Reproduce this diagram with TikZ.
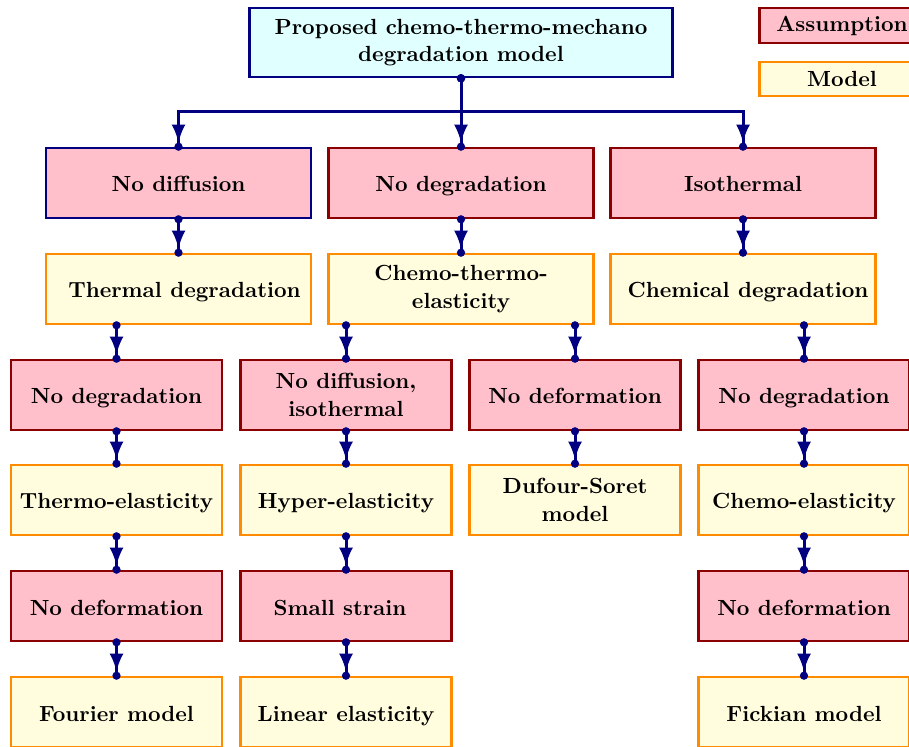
\documentclass[tikz,border=0pt]{standalone}
\usetikzlibrary{arrows.meta}
\definecolor{navyblue}{RGB}{0,0,128}
\definecolor{boxred}{RGB}{139,0,0}
\definecolor{boxpink}{RGB}{255,192,203}
\definecolor{boxyellow}{RGB}{255,253,222}
\definecolor{boxorange}{RGB}{255,140,0}
\definecolor{boxcyan}{RGB}{224,255,255}
\begin{document}
\begin{tikzpicture}
	[x=0.5pt,y=-0.5pt,
	box/.style={draw,line width=1.3pt,font=\fontsize{10.95}{13.6}\selectfont\bfseries,align=center,inner sep=2pt},
	assume/.style={box,draw=boxred,fill=boxpink},
	model/.style={box,draw=boxorange,fill=boxyellow},
	wide/.style={minimum width=132.5pt,minimum height=35pt,text height=10pt,text depth=1pt},
	narrow/.style={minimum width=105.5pt,minimum height=35pt,text height=10pt,text depth=1pt},
	twolines/.style={text height={},text depth={}},
	link/.style={navyblue,line width=1.5pt,{Circle[length=4pt]}-{Latex[length=9pt,width=7pt]Circle[length=4pt]},
		shorten <=-2pt,shorten >=-2pt}]
	\clip (0,0) rectangle (909,747);
	% top and legend
	\node[box,draw=navyblue,fill=boxcyan,minimum width=211.5pt,minimum height=34.5pt] (top) at (461,42.5)
		{Proposed chemo-thermo-mechano\\degradation model};
	\node[assume,minimum width=82.5pt,minimum height=17.5pt] (legA) at (842,25.5) {Assumption};
	\node[model,minimum width=82.5pt,minimum height=17pt] (legM) at (842,79) {Model};
	% first level
	\node[assume,wide,draw=navyblue] (nodiff) at (178.5,183) {No diffusion};
	\node[assume,wide] (nodeg) at (461,183) {No degradation};
	\node[assume,wide] (iso) at (743,183) {Isothermal};
	\node[model,wide] (thdeg) at (178.5,289) {\hspace{6pt}Thermal degradation};
	\node[model,wide,twolines] (ctel) at (461,289) {Chemo-thermo-\\elasticity};
	\node[model,wide] (chdeg) at (743,289) {\hspace{5pt}Chemical degradation};
	% second level
	\node[assume,narrow] (nodegA) at (116.5,395) {No degradation};
	\node[assume,narrow,twolines] (nodiffiso) at (346,395) {No diffusion,\\isothermal};
	\node[assume,narrow] (nodef) at (575,395) {No deformation};
	\node[assume,narrow] (nodegB) at (804,395) {No degradation};
	\node[model,narrow] (thel) at (116.5,500) {Thermo-elasticity};
	\node[model,narrow] (hyel) at (346,500) {Hyper-elasticity};
	\node[model,narrow,twolines] (dufour) at (575,500) {Dufour-Soret\\model};
	\node[model,narrow] (chel) at (804,500) {Chemo-elasticity};
	\node[assume,narrow] (nodefA) at (116.5,606) {No deformation};
	\node[assume,narrow] (small) at (346,606) {Small strain\hspace{6pt}};
	\node[assume,narrow] (nodefB) at (804,606) {No deformation};
	\node[model,narrow] (fourier) at (116.5,712) {Fourier model};
	\node[model,narrow] (linel) at (346,712) {Linear elasticity};
	\node[model,narrow] (fick) at (804,712) {Fickian model};
	% connectors
	\coordinate (split) at (461,112);
	\draw[link] (top.south) -- (split) -| (nodiff.north);
	\draw[link] (top.south) -- (nodeg.north);
	\draw[link] (top.south) -- (split) -| (iso.north);
	\draw[link] (nodiff.south) -- (thdeg.north);
	\draw[link] (nodeg.south) -- (ctel.north);
	\draw[link] (iso.south) -- (chdeg.north);
	\draw[link] (thdeg.south -| nodegA.north) -- (nodegA.north);
	\draw[link] (ctel.south -| nodiffiso.north) -- (nodiffiso.north);
	\draw[link] (ctel.south -| nodef.north) -- (nodef.north);
	\draw[link] (chdeg.south -| nodegB.north) -- (nodegB.north);
	\draw[link] (nodegA.south) -- (thel.north);
	\draw[link] (nodiffiso.south) -- (hyel.north);
	\draw[link] (nodef.south) -- (dufour.north);
	\draw[link] (nodegB.south) -- (chel.north);
	\draw[link] (thel.south) -- (nodefA.north);
	\draw[link] (hyel.south) -- (small.north);
	\draw[link] (chel.south) -- (nodefB.north);
	\draw[link] (nodefA.south) -- (fourier.north);
	\draw[link] (small.south) -- (linel.north);
	\draw[link] (nodefB.south) -- (fick.north);
\end{tikzpicture}
\end{document}
